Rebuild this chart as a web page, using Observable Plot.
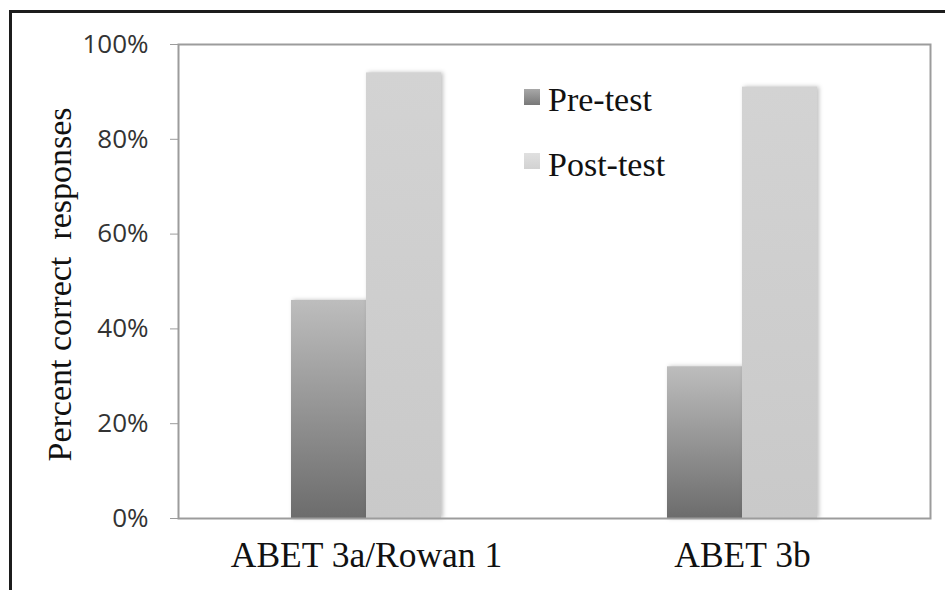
<!DOCTYPE html>
<html>
<head>
<meta charset="utf-8">
<script src="https://cdn.jsdelivr.net/npm/d3@7"></script>
<script src="https://cdn.jsdelivr.net/npm/@observablehq/plot@0.6"></script>
<style>
  html, body { margin: 0; padding: 0; background: #fff; overflow: hidden; }
  #wrap { position: relative; width: 945px; height: 590px; }
  #outer { position: absolute; left: 9px; top: 10px; width: 1000px; height: 1000px; border: 3px solid #1c1c1c; box-sizing: border-box; }
  #chart { position: absolute; left: 0; top: 0; }
  .leg { position: absolute; font-family: "Liberation Serif", "Times New Roman", serif; font-size: 34px; line-height: 34px; color: #111; white-space: nowrap; }
  .sw { position: absolute; width: 16px; height: 16px; }
  #chart g[aria-label="bar"] { filter: drop-shadow(2px 0px 2px rgba(0,0,0,0.25)); }
  #chart g[aria-label="frame"] { filter: drop-shadow(1px 1px 1px rgba(0,0,0,0.3)); }
</style>
</head>
<body>
<svg width="0" height="0" style="position:absolute">
  <defs>
    <linearGradient id="preGrad" x1="0" y1="0" x2="0" y2="1">
      <stop offset="0" stop-color="#bdbdbd"/>
      <stop offset="1" stop-color="#6c6c6c"/>
    </linearGradient>
    <linearGradient id="postGrad" x1="0" y1="0" x2="0" y2="1">
      <stop offset="0" stop-color="#d3d3d3"/>
      <stop offset="1" stop-color="#c9c9c9"/>
    </linearGradient>
  </defs>
</svg>
<div id="wrap">
  <div id="chart"></div>
  <div id="outer"></div>
  <div class="sw" style="left:524px; top:89px; background: linear-gradient(#a8a8a8, #787878);"></div>
  <div class="leg" style="left:548px; top:83px;">Pre-test</div>
  <div class="sw" style="left:524px; top:153px; background: linear-gradient(#e0e0e0, #d2d2d2);"></div>
  <div class="leg" style="left:548px; top:148px;">Post-test</div>
</div>
<script>
const categories = ["ABET 3a/Rowan 1", "ABET 3b"];
const series = ["Pre-test", "Post-test"];
const preValues = [0.46, 0.32];
const postValues = [0.94, 0.91];
const yTicks = [0, 0.2, 0.4, 0.6, 0.8, 1.0];
const yLabel = "Percent correct  responses";

const preRows = categories.map((c, i) => ({category: c, series: series[0], value: preValues[i]}));
const postRows = categories.map((c, i) => ({category: c, series: series[1], value: postValues[i]}));

const chart = Plot.plot({
  width: 945,
  height: 590,
  marginLeft: 178,
  marginRight: 15,
  marginTop: 44,
  marginBottom: 72,
  style: {background: "transparent", overflow: "visible"},
  x: {domain: categories, padding: 0},
  y: {domain: [0, 1]},
  marks: [
    Plot.barY(preRows, {x: "category", y: "value", fill: "url(#preGrad)", insetLeft: 113, insetRight: 188}),
    Plot.barY(postRows, {x: "category", y: "value", fill: "url(#postGrad)", insetLeft: 188, insetRight: 113}),
    Plot.frame({stroke: "#9c9c9c", strokeWidth: 2}),
    Plot.axisY({ticks: yTicks, tickFormat: d3.format(".0%"), tickSize: 8, tickPadding: 22,
      fontSize: 26, fontFamily: "Open Sans", stroke: "#9c9c9c", fill: "#333", label: null}),
    Plot.axisX({tickSize: 0, tickPadding: 23, fontSize: 35.5, fontFamily: "Liberation Serif", fill: "#111", label: null}),
    Plot.text([yLabel], {text: d => d, frameAnchor: "left", textAnchor: "middle", rotate: -90, dx: -118, dy: 3,
      fontSize: 34, fontFamily: "Liberation Serif", fill: "#111"})
  ]
});
document.getElementById("chart").appendChild(chart);
</script>
</body>
</html>
